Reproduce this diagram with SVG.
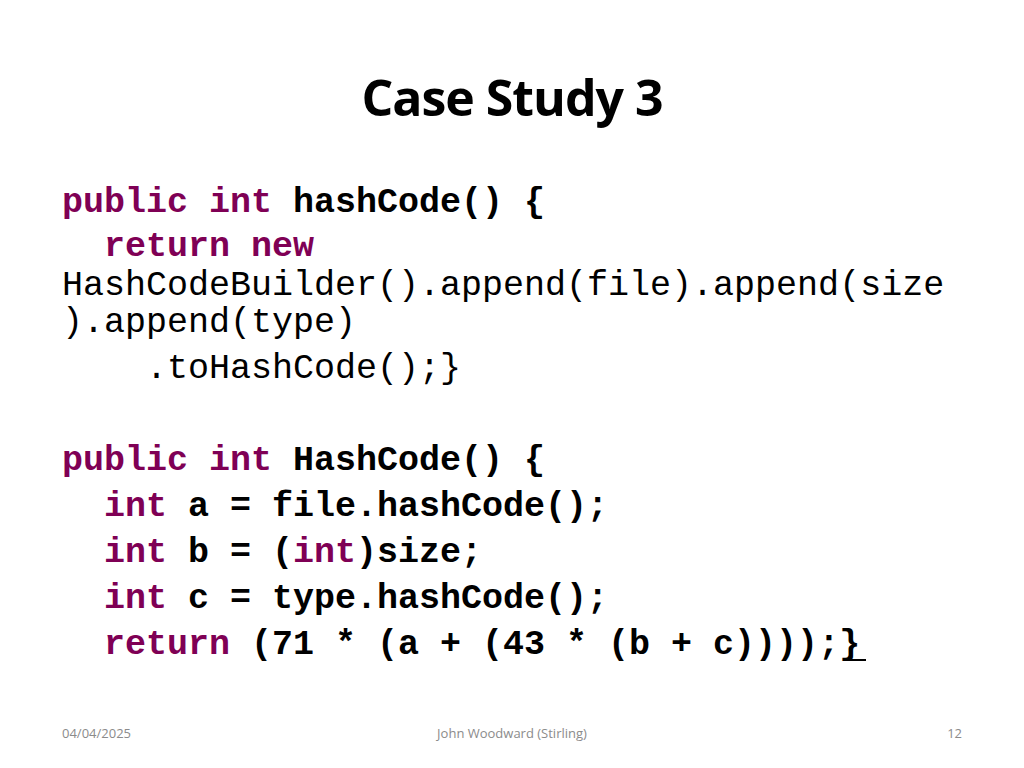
<svg xmlns="http://www.w3.org/2000/svg" width="1024" height="768" viewBox="0 0 1024 768">
<style>
.t{font-family:"Open Sans","Liberation Sans",sans-serif;font-weight:bold;font-size:50px;fill:#000}
.c{font-family:"Liberation Mono","DejaVu Sans Mono",monospace;font-size:35px;fill:#000;font-weight:bold}
.r{font-weight:normal}
.k{fill:#7F0055}
.f{font-family:"Open Sans","Liberation Sans",sans-serif;font-size:13px;fill:#8B8B8B}
</style>
<rect width="1024" height="768" fill="#fff"/>
<text class="t" x="512" y="116" text-anchor="middle" letter-spacing="-1">Case Study 3</text>
<g id="code1">
<text class="c" x="62" y="212"><tspan class="k">public int</tspan> hashCode() {</text>
<text class="c k" x="104" y="256">return new</text>
<text class="c r" x="62" y="295">HashCodeBuilder().append(file).append(size</text>
<text class="c r" x="62" y="332">).append(type)</text>
<text class="c r" x="146" y="378">.toHashCode();}</text>
</g>
<g id="code2">
<text class="c" x="62" y="470"><tspan class="k">public int</tspan> HashCode() {</text>
<text class="c" x="104" y="516"><tspan class="k">int</tspan> a = file.hashCode();</text>
<text class="c" x="104" y="562"><tspan class="k">int</tspan> b = (<tspan class="k">int</tspan>)size;</text>
<text class="c" x="104" y="608"><tspan class="k">int</tspan> c = type.hashCode();</text>
<text class="c" x="104" y="654"><tspan class="k">return</tspan> (71 * (a + (43 * (b + c))));}</text>
<line x1="843" y1="660" x2="866" y2="660" stroke="#000" stroke-width="2"/>
</g>
<text class="f" x="62" y="738">04/04/2025</text>
<text class="f" x="512" y="738" text-anchor="middle">John Woodward (Stirling)</text>
<text class="f" x="962" y="738" text-anchor="end">12</text>
</svg>
